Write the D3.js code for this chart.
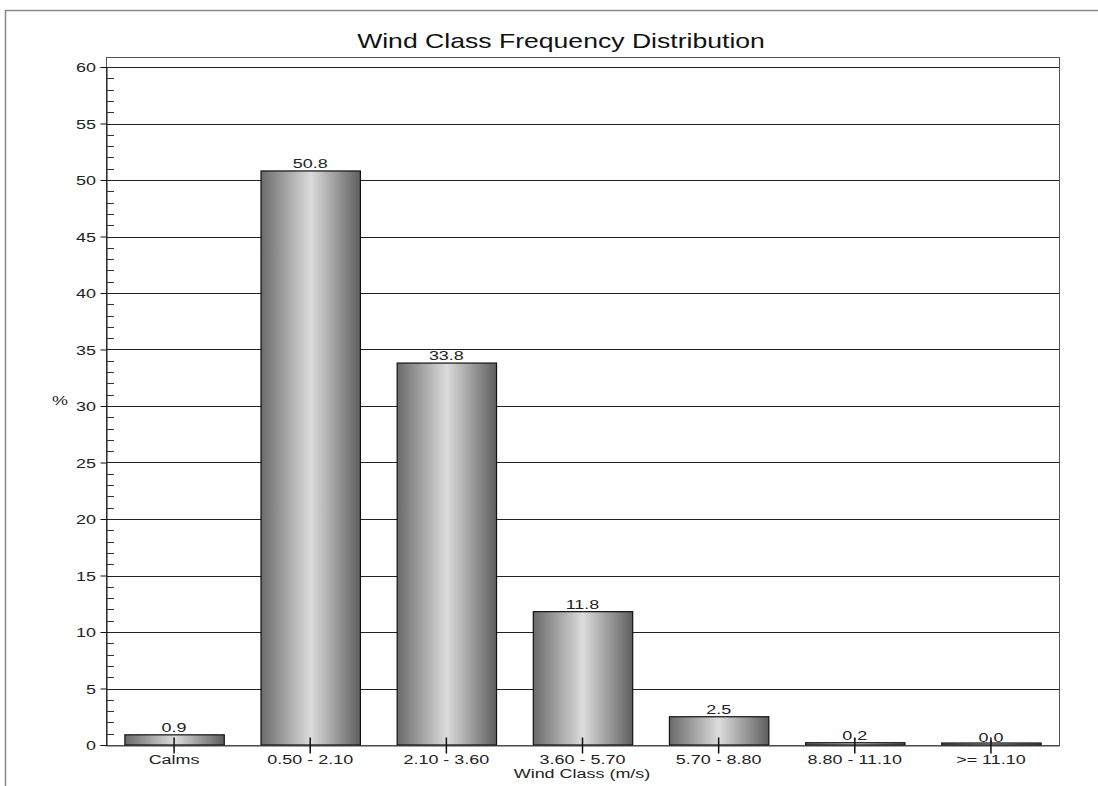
<!DOCTYPE html>
<html><head><meta charset="utf-8">
<script src="https://cdn.jsdelivr.net/npm/d3@7"></script>
<style>body{margin:0;background:#fff}svg{display:block;font-family:Arial,"Liberation Sans",sans-serif}</style>
</head><body><svg id="c" width="1098" height="786"></svg>
<script>
const categories = ["Calms","0.50 - 2.10","2.10 - 3.60","3.60 - 5.70","5.70 - 8.80","8.80 - 11.10",">= 11.10"];
const values = [0.9, 50.8, 33.8, 11.8, 2.5, 0.2, 0.0];
const yTicks = [0,5,10,15,20,25,30,35,40,45,50,55,60];

const SX = 1.33; // horizontal stretch of text as in the reference
const svg = d3.select("#c");
const L=106, R=1059, T=57, B=745;
const x = d3.scaleBand().domain(categories).range([L,R]).paddingInner(0.27).paddingOuter(0.135);
const y = d3.scaleLinear().domain([0,60]).range([B,67]);

function stext(parent, px, py, str, size, anchor){
  return parent.append("text").attr("transform",`translate(${px},${py}) scale(${SX},1)`)
    .attr("text-anchor",anchor||"middle").attr("font-size",size).attr("fill","#222").text(str);
}

const defs = svg.append("defs");
const g = defs.append("linearGradient").attr("id","bg").attr("x1","0").attr("x2","1").attr("y1","0").attr("y2","0");
[[0,"#6a6a6a"],[0.5,"#dcdcdc"],[1,"#5e5e5e"]].forEach(([o,c])=>g.append("stop").attr("offset",o).attr("stop-color",c));

// outer frame
svg.append("path").attr("d","M5.5,786 V10.5 H1098").attr("fill","none").attr("stroke","#888").attr("stroke-width",1.5);

// title
stext(svg, 561, 48, "Wind Class Frequency Distribution", 20).attr("fill","#111");

// gridlines
svg.append("g").selectAll("line").data(yTicks.filter(d=>d>0)).join("line")
  .attr("x1",L).attr("x2",R).attr("y1",d=>Math.round(y(d))+0.5).attr("y2",d=>Math.round(y(d))+0.5)
  .attr("stroke","#222").attr("stroke-width",1);

// plot box
svg.append("rect").attr("x",L+0.5).attr("y",T+0.5).attr("width",R-L).attr("height",B-T)
  .attr("fill","none").attr("stroke","#555").attr("stroke-width",1);

// y axis
const yAxis = d3.axisLeft(y).tickValues(yTicks).tickSize(6).tickFormat(()=>"");
const ya = svg.append("g").attr("transform",`translate(${L+0.5},0)`).call(yAxis);
ya.select(".domain").attr("stroke","#111");
ya.selectAll(".tick line").attr("stroke","#111");
const yl = svg.append("g");
yTicks.forEach(t=>stext(yl, 96, y(t)+5, String(t), 13.5, "end"));
// minor ticks
const minor = d3.range(0,61).filter(d=>d%5!==0);
svg.append("g").selectAll("line").data(minor).join("line")
  .attr("x1",L).attr("x2",L+8).attr("y1",d=>Math.round(y(d))+0.5).attr("y2",d=>Math.round(y(d))+0.5)
  .attr("stroke","#333");

// bars
svg.append("g").selectAll("rect").data(values).join("rect")
  .attr("x",(d,i)=>x(categories[i])+0.5).attr("width",x.bandwidth())
  .attr("y",d=>Math.min(y(d),B-2)).attr("height",d=>Math.max(2,B-y(d)))
  .attr("fill","url(#bg)").attr("stroke","#111").attr("stroke-width",1.2);

// value labels
const vl = svg.append("g");
values.forEach((v,i)=>stext(vl, x(categories[i])+x.bandwidth()/2, y(v)-3, v.toFixed(1), 13.5));

// x axis
const xAxis = d3.axisBottom(x).tickSize(8).tickFormat(()=>"").tickSizeOuter(0);
const xa = svg.append("g").attr("transform",`translate(0,${B+0.5})`).call(xAxis);
xa.select(".domain").attr("stroke","#444");
xa.selectAll(".tick line").attr("y1",-8).attr("stroke","#111").attr("stroke-width",1.5);
const xl = svg.append("g");
categories.forEach(c=>stext(xl, x(c)+x.bandwidth()/2, 764, c, 13.5));

// axis titles
stext(svg, 582, 778, "Wind Class (m/s)", 13.5);
stext(svg, 60, 405, "%", 13.5);
</script></body></html>
